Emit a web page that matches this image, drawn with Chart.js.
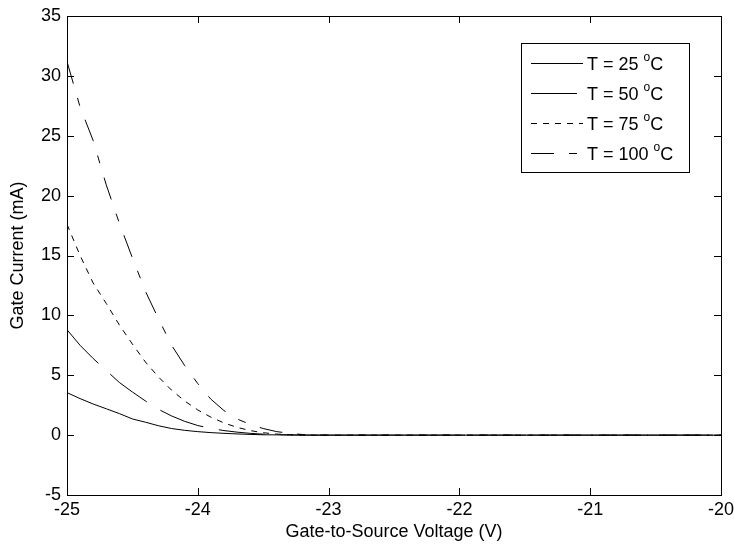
<!DOCTYPE html>
<html>
<head>
<meta charset="utf-8">
<script src="https://cdn.jsdelivr.net/npm/chart.js@4.4.1/dist/chart.umd.min.js"></script>
<style>
  html, body { margin: 0; padding: 0; background: #fff; }
  #wrap { width: 734px; height: 548px; }
</style>
</head>
<body>
<div id="wrap"><canvas id="chartGate"></canvas></div>
<script>
const voltage = [-25, -24.9, -24.8, -24.7, -24.6, -24.5, -24.4, -24.3, -24.2, -24.1, -24.0,
  -23.9, -23.8, -23.7, -23.6, -23.5, -23.4, -23.3, -23.2, -23.1, -23.0, -22, -21, -20];

const current25 = [3.55, 3.05, 2.6, 2.2, 1.8, 1.35, 1.08, 0.78, 0.55, 0.4, 0.29,
  0.21, 0.15, 0.1, 0.06, 0.03, 0.02, 0.01, 0, 0, 0, 0, 0, 0];
const current50 = [8.8, 7.5, 6.4, 5.4, 4.4, 3.6, 2.85, 2.15, 1.6, 1.15, 0.8,
  0.56, 0.38, 0.25, 0.15, 0.08, 0.04, 0.02, 0.01, 0, 0, 0, 0, 0];
const current75 = [17.6, 15.0, 12.7, 11.0, 9.2, 7.6, 6.1, 4.85, 3.75, 2.85, 2.1,
  1.5, 1.02, 0.65, 0.38, 0.2, 0.09, 0.03, 0.01, 0, 0, 0, 0, 0];
const current100 = [31.2, 27.4, 24.6, 20.9, 17.7, 14.8, 12.0, 9.7, 7.5, 5.8, 4.3,
  3.0, 2.05, 1.35, 0.9, 0.55, 0.3, 0.15, 0.05, 0.01, 0, 0, 0, 0];

const temperatures = [25, 50, 75, 100];
const xTicks = [-25, -24, -23, -22, -21, -20];
const yTicks = [-5, 0, 5, 10, 15, 20, 25, 30, 35];

const FONT = { family: "'Liberation Sans', Arial, Helvetica, sans-serif", size: 18 };
const dashes = [[], [46, 16], [6, 6], [23, 15, 8, 15]];
const seriesValues = [current25, current50, current75, current100];

const toPoints = (values) => voltage.map((v, i) => ({ x: v, y: values[i] }));

// MATLAB-like box with inward ticks on all four sides
const boxTicks = {
  id: 'boxTicks',
  afterDatasetsDraw(chart) {
    const { ctx, chartArea: a, scales } = chart;
    const len = 7;
    ctx.save();
    ctx.strokeStyle = '#000';
    ctx.lineWidth = 1;
    ctx.beginPath();
    xTicks.forEach((v) => {
      const px = Math.round(scales.x.getPixelForValue(v)) + 0.5;
      ctx.moveTo(px, a.bottom); ctx.lineTo(px, a.bottom - len);
      ctx.moveTo(px, a.top); ctx.lineTo(px, a.top + len);
    });
    yTicks.forEach((v) => {
      const py = Math.round(scales.y.getPixelForValue(v)) + 0.5;
      ctx.moveTo(a.left, py); ctx.lineTo(a.left + len, py);
      ctx.moveTo(a.right, py); ctx.lineTo(a.right - len, py);
    });
    ctx.stroke();
    ctx.strokeRect(Math.round(a.left) + 0.5, Math.round(a.top) + 0.5,
      Math.round(a.right - a.left), Math.round(a.bottom - a.top));
    ctx.restore();
  },
};

// Boxed legend in the top right corner of the axes
const boxLegend = {
  id: 'boxLegend',
  afterDraw(chart) {
    const { ctx, chartArea: a } = chart;
    const right = a.right - 32;
    const left = right - 168;
    const top = a.top + 27;
    const height = 129;
    ctx.save();
    ctx.fillStyle = '#fff';
    ctx.fillRect(left, top, right - left, height);
    ctx.strokeStyle = '#000';
    ctx.lineWidth = 1;
    ctx.strokeRect(Math.round(left) + 0.5, Math.round(top) + 0.5, right - left, height);
    ctx.textBaseline = 'middle';
    ctx.fillStyle = '#000';
    chart.data.datasets.forEach((ds, i) => {
      const y = Math.round(top + 20 + i * 30) + 0.5;
      ctx.setLineDash(ds.borderDash || []);
      ctx.beginPath();
      ctx.moveTo(left + 10, y);
      ctx.lineTo(left + 62, y);
      ctx.stroke();
      ctx.setLineDash([]);
      let x = left + 66;
      const main = `T = ${temperatures[i]} `;
      ctx.font = `${FONT.size}px ${FONT.family}`;
      ctx.fillText(main, x, y + 2);
      x += ctx.measureText(main).width;
      ctx.font = `12px ${FONT.family}`;
      ctx.fillText('o', x, y - 6);
      x += ctx.measureText('o').width;
      ctx.font = `${FONT.size}px ${FONT.family}`;
      ctx.fillText('C', x, y + 2);
    });
    ctx.restore();
  },
};

new Chart(document.getElementById('chartGate').getContext('2d'), {
  type: 'scatter',
  data: {
    datasets: seriesValues.map((values, i) => ({
      label: `T = ${temperatures[i]} °C`,
      data: toPoints(values),
      showLine: true,
      borderColor: '#000',
      backgroundColor: '#000',
      borderWidth: 1,
      borderDash: dashes[i],
      pointRadius: 0,
      tension: 0,
    })),
  },
  options: {
    responsive: true,
    maintainAspectRatio: false,
    animation: false,
    layout: { padding: { top: 16, right: 13, left: 0, bottom: 0 } },
    scales: {
      x: {
        type: 'linear',
        min: -25,
        max: -20,
        afterBuildTicks: (scale) => { scale.ticks = xTicks.map((value) => ({ value })); },
        afterFit: (scale) => {
          scale.height = 53;
          scale.paddingLeft = 0;
          scale.paddingRight = 0;
        },
        grid: { display: false, drawTicks: false },
        border: { display: false },
        ticks: { font: FONT, color: '#000', padding: 4, maxRotation: 0, autoSkip: false },
        title: {
          display: true,
          text: 'Gate-to-Source Voltage (V)',
          font: FONT,
          color: '#000',
          padding: { top: 0, bottom: 5 },
        },
      },
      y: {
        min: -5,
        max: 35,
        afterBuildTicks: (scale) => { scale.ticks = yTicks.map((value) => ({ value })); },
        afterFit: (scale) => {
          scale.width = 67;
          scale.paddingTop = 0;
          scale.paddingBottom = 0;
        },
        grid: { display: false, drawTicks: false },
        border: { display: false },
        ticks: { font: FONT, color: '#000', padding: 6, autoSkip: false },
        title: {
          display: true,
          text: 'Gate Current (mA)',
          font: FONT,
          color: '#000',
          padding: { top: 7, bottom: 0 },
        },
      },
    },
    plugins: {
      legend: { display: false },
      tooltip: { enabled: false },
    },
  },
  plugins: [boxTicks, boxLegend],
});
</script>
</body>
</html>
